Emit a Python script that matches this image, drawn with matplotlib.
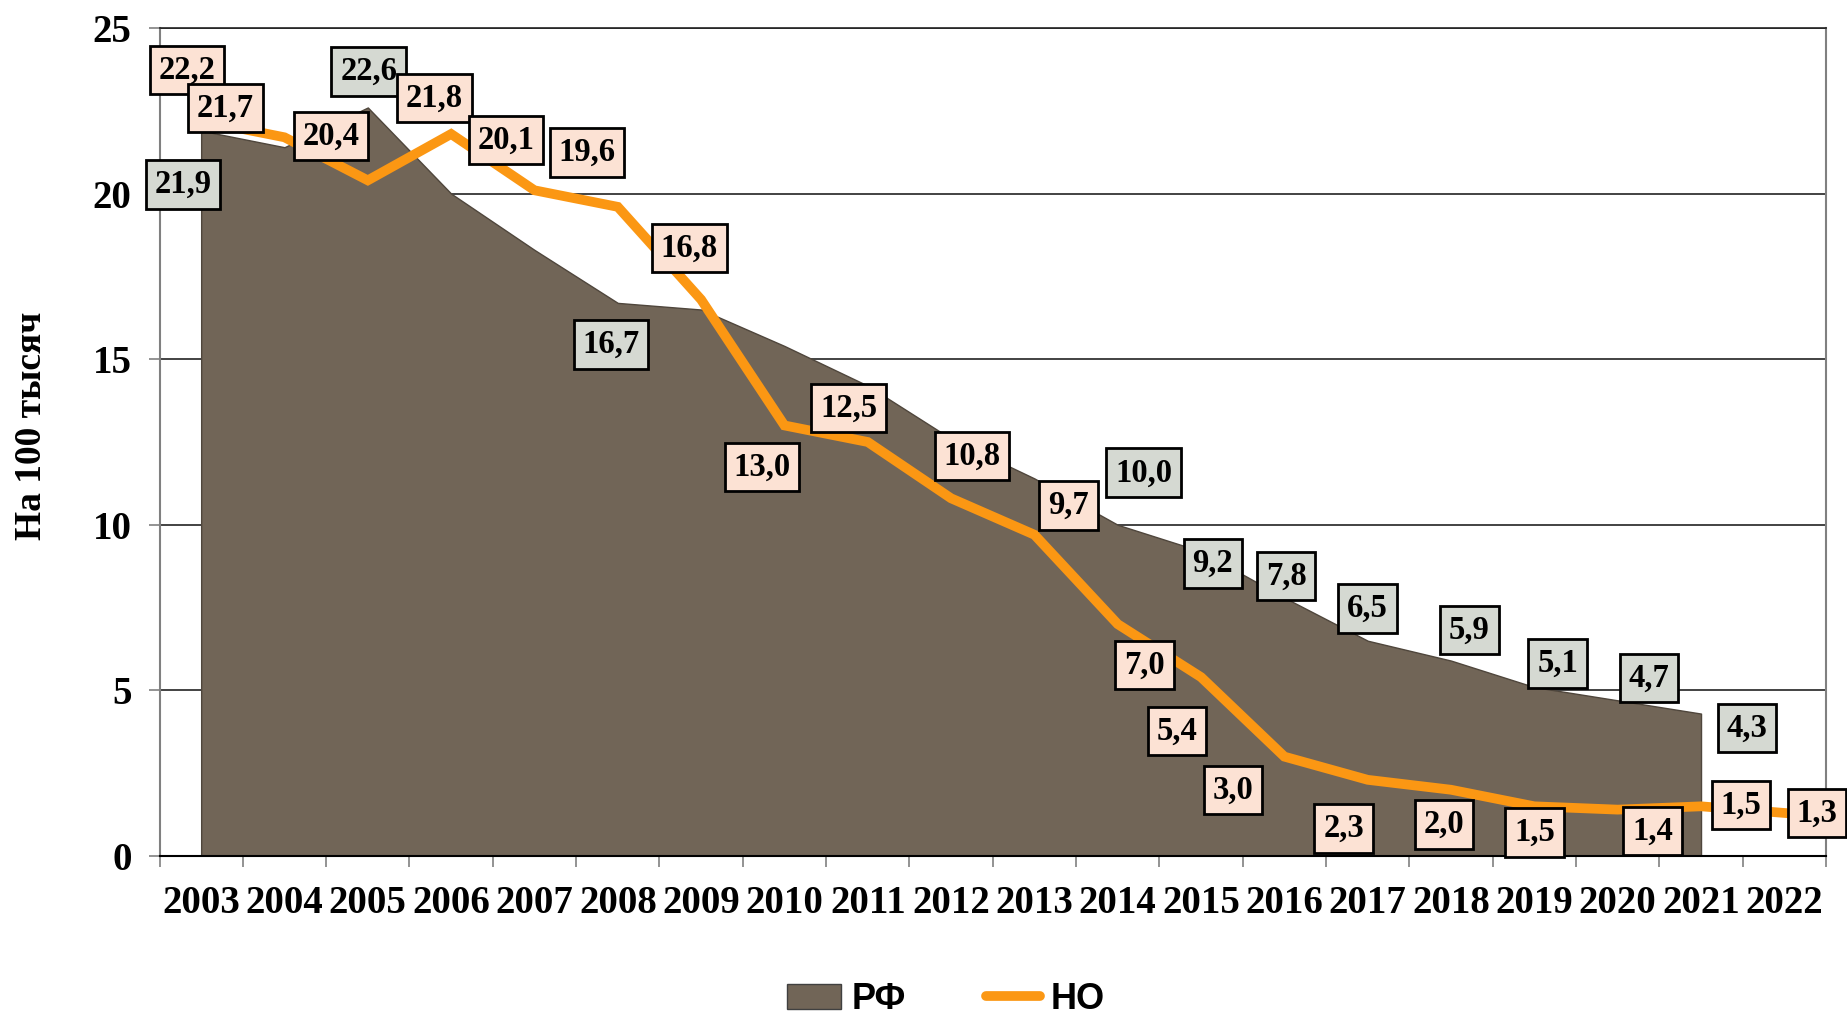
import matplotlib
matplotlib.use('Agg')
import matplotlib.pyplot as plt
from matplotlib.patches import Patch
from matplotlib.lines import Line2D
import numpy as np

years = [str(y) for y in range(2003, 2023)]

# РФ (area), no value for 2022
rf = [21.9, 21.4, 22.6, 20.0, 18.3, 16.7, 16.5, 15.4, 14.2, 12.6,
      11.4, 10.0, 9.2, 7.8, 6.5, 5.9, 5.1, 4.7, 4.3]
# НО (line)
no = [22.2, 21.7, 20.4, 21.8, 20.1, 19.6, 16.8, 13.0, 12.5, 10.8,
      9.7, 7.0, 5.4, 3.0, 2.3, 2.0, 1.5, 1.4, 1.5, 1.3]

# label placement: year index -> (x shift in categories, label centre y)
rf_lab = {0: (-0.22, 20.27), 2: (0.01, 23.68), 5: (-0.08, 15.45),
          11: (0.31, 11.57), 12: (0.14, 8.84), 13: (0.02, 8.45),
          14: (0.0, 7.48), 15: (0.22, 6.82), 16: (0.28, 5.81),
          17: (0.375, 5.38), 18: (0.55, 3.86)}
no_lab = [(-0.17, 23.73), (-0.71, 22.59), (-0.44, 21.74), (-0.20, 22.89),
          (-0.34, 21.62), (-0.37, 21.25), (-0.14, 18.36), (-0.27, 11.75),
          (-0.23, 13.53), (0.25, 12.08), (0.41, 10.58), (0.32, 5.77),
          (-0.29, 3.77), (-0.62, 1.99), (-0.29, 0.83), (-0.08, 0.96),
          (0.0, 0.71), (0.42, 0.76), (0.48, 1.54), (0.39, 1.30)]

area_col = '#716557'
line_col = '#FB9713'
rf_box = '#D5D9D2'
no_box = '#FCE2D4'
serif = 'Liberation Serif'

fig = plt.figure(figsize=(18.47, 10.21), dpi=100)
ax = fig.add_axes([159.5 / 1847, 1 - 856 / 1021, (1826 - 159.5) / 1847, (856 - 28) / 1021])

x_rf = np.arange(len(rf))
x_no = np.arange(len(no))
ax.fill_between(x_rf, 0, rf, color=area_col, edgecolor='#4f463c', lw=1, zorder=2)
ax.plot(x_no, no, color=line_col, lw=7, solid_joinstyle='miter', zorder=3)

ax.set_xlim(-0.5, len(years) - 0.5)
ax.set_ylim(0, 25)
ax.set_axisbelow(True)
ax.yaxis.grid(True, color='#222222', lw=1.2)

ax.set_xticks(np.arange(-0.5, len(years)), minor=False)
ax.set_xticklabels([])
ax.set_xticks(np.arange(len(years)), minor=True)
ax.set_xticklabels(years, minor=True, fontsize=28, fontweight='bold', family=serif)
ax.tick_params(axis='x', which='major', direction='out', length=8, color='#808080', width=1.2)
ax.tick_params(axis='x', which='minor', length=0, pad=21)

ax.set_yticks(np.arange(0, 26, 5))
ax.set_yticklabels([str(v) for v in range(0, 26, 5)], fontsize=28, fontweight='bold', family=serif)
ax.tick_params(axis='y', direction='out', length=8, color='#808080', width=1.2, pad=12)

for s in ['left', 'right']:
    ax.spines[s].set_color('#808080')
    ax.spines[s].set_linewidth(1.5)
ax.spines['top'].set_color('#222222')
ax.spines['top'].set_linewidth(1.2)
ax.spines['bottom'].set_color('black')
ax.spines['bottom'].set_linewidth(1.5)


def fmt(v):
    return ('%.1f' % v).replace('.', ',')


for i, (dx, yy) in rf_lab.items():
    ax.text(i + dx, yy, fmt(rf[i]), ha='center', va='center', fontsize=23.5,
            fontweight='bold', family=serif, zorder=5, clip_on=False,
            bbox=dict(boxstyle='square,pad=0.27', fc=rf_box, ec='black', lw=2))

for i, (dx, yy) in enumerate(no_lab):
    ax.text(i + dx, yy, fmt(no[i]), ha='center', va='center', fontsize=23.5,
            fontweight='bold', family=serif, zorder=6, clip_on=False,
            bbox=dict(boxstyle='square,pad=0.27', fc=no_box, ec='black', lw=2))

fig.text(0.017, 1 - 426 / 1021, 'На 100 тысяч', rotation=90, ha='center', va='center',
         fontsize=27, fontweight='bold', family=serif)

handles = [Patch(facecolor=area_col, edgecolor='#404040', lw=1),
           Line2D([0], [0], color=line_col, lw=7, solid_capstyle='round')]
fig.legend(handles, ['РФ', 'НО'], loc='center', bbox_to_anchor=(0.512, 0.021), ncol=2,
           frameon=False, handlelength=1.5, handletextpad=0.3, columnspacing=2.2,
           borderpad=0.1, prop={'family': 'Liberation Sans', 'weight': 'bold', 'size': 26})

fig.savefig('out.png', dpi=100)
